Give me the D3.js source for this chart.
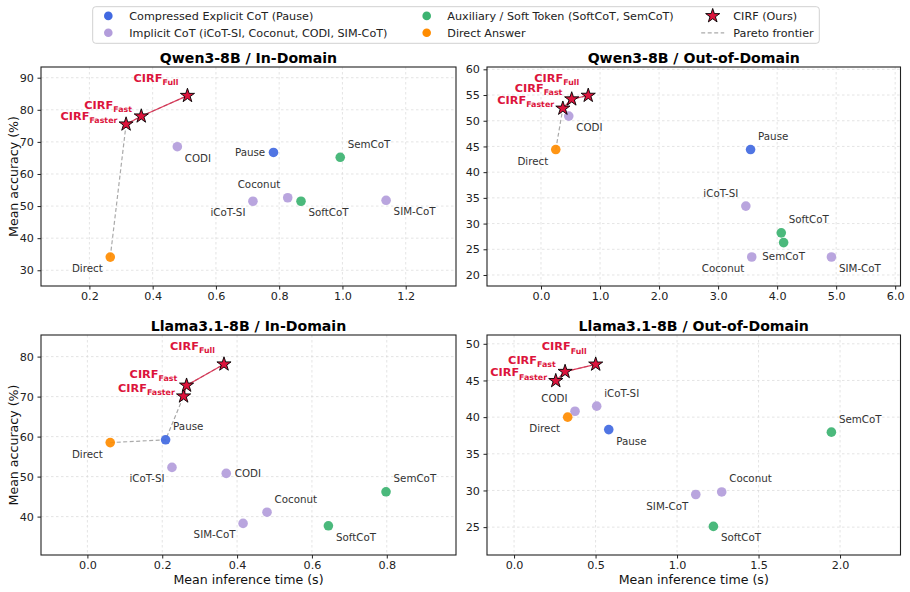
<!DOCTYPE html>
<html>
<head>
<meta charset="utf-8">
<script src="https://cdn.jsdelivr.net/npm/d3@7"></script>
<style>
  body { margin: 0; background: #fff; }
  svg { display: block; font-family: "DejaVu Sans", sans-serif; }
</style>
</head>
<body>
<svg id="chart"></svg>
<script>
// methods, same order in every panel
const methods = ["Pause", "iCoT-SI", "Coconut", "CODI", "SIM-CoT", "SoftCoT", "SemCoT", "Direct",
                 "CIRF-Faster", "CIRF-Fast", "CIRF-Full"];
const groups = ["explicit", "implicit", "implicit", "implicit", "implicit", "aux", "aux", "direct",
                "cirf", "cirf", "cirf"];

// Qwen3-8B / In-Domain
const qwenIdTime = [0.782, 0.717, 0.827, 0.478, 1.138, 0.869, 0.993, 0.266, 0.316, 0.364, 0.510];
const qwenIdAcc  = [66.7, 51.5, 52.6, 68.5, 51.8, 51.5, 65.2, 34.1, 75.5, 78.0, 84.4];
// Qwen3-8B / Out-of-Domain
const qwenOodTime = [3.55, 3.47, 3.57, 0.47, 4.92, 4.07, 4.11, 0.25, 0.37, 0.52, 0.80];
const qwenOodAcc  = [44.4, 33.4, 23.5, 50.9, 23.5, 28.2, 26.3, 44.4, 52.4, 54.2, 54.9];
// Llama3.1-8B / In-Domain
const llamaIdTime = [0.209, 0.226, 0.480, 0.371, 0.416, 0.644, 0.798, 0.061, 0.257, 0.265, 0.365];
const llamaIdAcc  = [59.2, 52.3, 41.1, 50.8, 38.3, 37.7, 46.2, 58.5, 70.1, 72.8, 78.1];
// Llama3.1-8B / Out-of-Domain
const llamaOodTime = [0.581, 0.507, 1.274, 0.374, 1.115, 1.223, 1.947, 0.329, 0.256, 0.313, 0.501];
const llamaOodAcc  = [38.3, 41.5, 29.8, 40.8, 29.45, 25.1, 37.95, 40.0, 44.95, 46.2, 47.2];

// where each baseline label sits around its point
const qwenIdLabels   = ["l", "ll", "ul", "lr", "lr", "lr", "ur", "ll"];
const qwenOodLabels  = ["ur", "ul", "ll", "lr", "lr", "ur", "b", "ll"];
const llamaIdLabels  = ["ur", "ll", "ur", "r", "ll", "lr", "ur", "ll"];
const llamaOodLabels = ["lr", "ur", "ur", "ul", "ll", "lr", "ur", "ll"];

const legendLabels = [
  "Compressed Explicit CoT (Pause)", "Implicit CoT (iCoT-SI, Coconut, CODI, SIM-CoT)",
  "Auxiliary / Soft Token (SoftCoT, SemCoT)", "Direct Answer",
  "CIRF (Ours)", "Pareto frontier"
];

const width = 910, height = 592;
const colors = {
  explicit: "#4169e1", implicit: "#b39ddb", aux: "#3cb371", direct: "#ff8c00", cirf: "#dc143c"
};

const placements = {
  ur: ["start", 7.5, -9.5], ul: ["end", -7.5, -9.5],
  lr: ["start", 7.5, 15],   ll: ["end", -7.5, 15],
  r:  ["start", 8.5, 3.5],  l:  ["end", -8.3, 3.5],
  b:  ["middle", 0, 17.5]
};
const cirfOffsets = { "CIRF-Faster": [-8.7, -4.5], "CIRF-Fast": [-9.3, -7.5], "CIRF-Full": [-9, -14] };

const panels = [
  { title: "Qwen3-8B / In-Domain", time: qwenIdTime, acc: qwenIdAcc, labels: qwenIdLabels,
    box: [41, 67, 456, 286], xDom: [0.047, 1.359], yDom: [25.1, 93.33],
    xTicks: [0.2, 0.4, 0.6, 0.8, 1.0, 1.2], yTicks: [30, 40, 50, 60, 70, 80, 90], yLabel: true, xLabel: false },
  { title: "Qwen3-8B / Out-of-Domain", time: qwenOodTime, acc: qwenOodAcc, labels: qwenOodLabels,
    box: [487, 67, 900.5, 286], xDom: [-0.915, 6.09], yDom: [17.86, 60.45],
    xTicks: [0, 1, 2, 3, 4, 5, 6], yTicks: [20, 25, 30, 35, 40, 45, 50, 55, 60], yLabel: false, xLabel: false },
  { title: "Llama3.1-8B / In-Domain", time: llamaIdTime, acc: llamaIdAcc, labels: llamaIdLabels,
    box: [41, 335, 456, 555], xDom: [-0.124, 0.985], yDom: [30.4, 85.4],
    xTicks: [0, 0.2, 0.4, 0.6, 0.8], yTicks: [40, 50, 60, 70, 80], yLabel: true, xLabel: true },
  { title: "Llama3.1-8B / Out-of-Domain", time: llamaOodTime, acc: llamaOodAcc, labels: llamaOodLabels,
    box: [487, 335, 900.5, 555], xDom: [-0.166, 2.371], yDom: [21.2, 51.2],
    xTicks: [0, 0.5, 1.0, 1.5, 2.0], yTicks: [25, 30, 35, 40, 45, 50], yLabel: false, xLabel: true }
];

const svg = d3.select("#chart")
  .attr("width", width)
  .attr("height", height)
  .attr("viewBox", [0, 0, width, height]);

const star = d3.symbol(d3.symbolStar, 62);

function paretoFrontier(pts) {
  const sorted = pts.slice().sort((a, b) => a.t - b.t || b.a - a.a);
  const front = [];
  let best = -Infinity;
  for (const p of sorted) {
    if (p.a > best) { front.push(p); best = p.a; }
  }
  return front;
}

function drawPanel(cfg) {
  const [x0, y0, x1, y1] = cfg.box;
  const x = d3.scaleLinear().domain(cfg.xDom).range([x0, x1]);
  const y = d3.scaleLinear().domain(cfg.yDom).range([y1, y0]);
  const g = svg.append("g");

  const pts = methods.map((m, i) => ({ m, group: groups[i], t: cfg.time[i], a: cfg.acc[i], i }));

  // grid
  g.append("g").selectAll("line").data(cfg.xTicks).join("line")
    .attr("x1", d => x(d)).attr("x2", d => x(d)).attr("y1", y0).attr("y2", y1)
    .attr("stroke", "#d9d9d9").attr("stroke-width", 0.7).attr("stroke-dasharray", "2.5,2.5");
  g.append("g").selectAll("line").data(cfg.yTicks).join("line")
    .attr("x1", x0).attr("x2", x1).attr("y1", d => y(d)).attr("y2", d => y(d))
    .attr("stroke", "#d9d9d9").attr("stroke-width", 0.7).attr("stroke-dasharray", "2.5,2.5");

  // axes
  const xAxis = g.append("g").attr("transform", `translate(0,${y1})`)
    .call(d3.axisBottom(x).tickValues(cfg.xTicks).tickFormat(d3.format(".1f")).tickSize(3.5).tickPadding(2.8));
  const yAxis = g.append("g").attr("transform", `translate(${x0},0)`)
    .call(d3.axisLeft(y).tickValues(cfg.yTicks).tickFormat(d3.format("d")).tickSize(3.5).tickPadding(3.5));
  [xAxis, yAxis].forEach(a => {
    a.select(".domain").remove();
    a.selectAll("text").attr("font-size", 11.2).attr("fill", "#222").attr("font-family", "DejaVu Sans");
    a.selectAll("line").attr("stroke", "#222");
  });

  g.append("rect")
    .attr("x", x0).attr("y", y0).attr("width", x1 - x0).attr("height", y1 - y0)
    .attr("fill", "none").attr("stroke", "#222").attr("stroke-width", 1.1);

  // title
  g.append("text")
    .attr("x", (x0 + x1) / 2).attr("y", y0 - 4.5)
    .attr("text-anchor", "middle")
    .attr("font-size", 14.1).attr("font-weight", "bold").attr("fill", "#000")
    .text(cfg.title);

  if (cfg.yLabel) {
    g.append("text")
      .attr("transform", `translate(17.5,${(y0 + y1) / 2}) rotate(-90)`)
      .attr("text-anchor", "middle")
      .attr("font-size", 12.6).attr("fill", "#111")
      .text("Mean accuracy (%)");
  }
  if (cfg.xLabel) {
    g.append("text")
      .attr("x", (x0 + x1) / 2).attr("y", y1 + 28.8)
      .attr("text-anchor", "middle")
      .attr("font-size", 12.6).attr("fill", "#111")
      .text("Mean inference time (s)");
  }

  const line = d3.line().x(d => x(d.t)).y(d => y(d.a));

  // Pareto frontier
  g.append("path")
    .datum(paretoFrontier(pts))
    .attr("d", line)
    .attr("fill", "none")
    .attr("stroke", "#aaa")
    .attr("stroke-width", 1.2)
    .attr("stroke-dasharray", "4,2.5");

  const cirf = pts.filter(p => p.group === "cirf");
  g.append("path")
    .datum(cirf)
    .attr("d", line)
    .attr("fill", "none")
    .attr("stroke", colors.cirf)
    .attr("stroke-opacity", 0.8)
    .attr("stroke-width", 1.2);

  const base = pts.filter(p => p.group !== "cirf");
  g.append("g").selectAll("circle").data(base).join("circle")
    .attr("cx", d => x(d.t)).attr("cy", d => y(d.a)).attr("r", 4.8)
    .attr("fill", d => colors[d.group]).attr("fill-opacity", 0.92);

  g.append("g").selectAll("path").data(cirf).join("path")
    .attr("d", star)
    .attr("transform", d => `translate(${x(d.t)},${y(d.a)})`)
    .attr("fill", colors.cirf)
    .attr("stroke", "#000").attr("stroke-width", 0.9);

  // baseline labels
  g.append("g").selectAll("text").data(base).join("text")
    .attr("x", d => x(d.t) + placements[cfg.labels[d.i]][1])
    .attr("y", d => y(d.a) + placements[cfg.labels[d.i]][2])
    .attr("text-anchor", d => placements[cfg.labels[d.i]][0])
    .attr("font-size", 10.3).attr("fill", "#333")
    .text(d => d.m);

  // CIRF labels with subscripts
  const cl = g.append("g").selectAll("text").data(cirf).join("text")
    .attr("x", d => x(d.t) + cirfOffsets[d.m][0])
    .attr("y", d => y(d.a) + cirfOffsets[d.m][1])
    .attr("text-anchor", "end")
    .attr("font-weight", "bold")
    .attr("fill", colors.cirf);
  cl.append("tspan").attr("font-size", 11.3).text("CIRF");
  cl.append("tspan").attr("font-size", 7.9).attr("dy", 3.2).text(d => d.m.split("-")[1]);
}

panels.forEach(drawPanel);

// legend
const legend = svg.append("g").attr("font-size", 11.2).attr("fill", "#222");
legend.append("rect")
  .attr("x", 92.7).attr("y", 6.7).attr("width", 726.6).attr("height", 36.6)
  .attr("rx", 3).attr("fill", "#fff").attr("stroke", "#ccc").attr("stroke-width", 0.9);

const legendItems = [
  { kind: "circle", group: "explicit", mx: 108.3, tx: 129.3, cy: 15.9 },
  { kind: "circle", group: "implicit", mx: 108.3, tx: 129.3, cy: 32.8 },
  { kind: "circle", group: "aux", mx: 426.7, tx: 447.3, cy: 15.9 },
  { kind: "circle", group: "direct", mx: 426.7, tx: 447.3, cy: 32.8 },
  { kind: "star", group: "cirf", mx: 712.7, tx: 733.3, cy: 15.9 },
  { kind: "dash", group: null, mx: 712.7, tx: 733.3, cy: 32.8 }
];

legendItems.forEach((it, i) => {
  if (it.kind === "circle") {
    legend.append("circle").attr("cx", it.mx).attr("cy", it.cy).attr("r", 4.3)
      .attr("fill", colors[it.group]);
  } else if (it.kind === "star") {
    legend.append("path").attr("d", star)
      .attr("transform", `translate(${it.mx},${it.cy})`)
      .attr("fill", colors.cirf).attr("stroke", "#000").attr("stroke-width", 0.9);
  } else {
    legend.append("line").attr("x1", it.mx - 11.5).attr("x2", it.mx + 11.5)
      .attr("y1", it.cy).attr("y2", it.cy)
      .attr("stroke", "#aaa").attr("stroke-width", 1.2).attr("stroke-dasharray", "4,2.5");
  }
  legend.append("text").attr("x", it.tx).attr("y", it.cy).attr("dy", "0.36em")
    .text(legendLabels[i]);
});
</script>
</body>
</html>
